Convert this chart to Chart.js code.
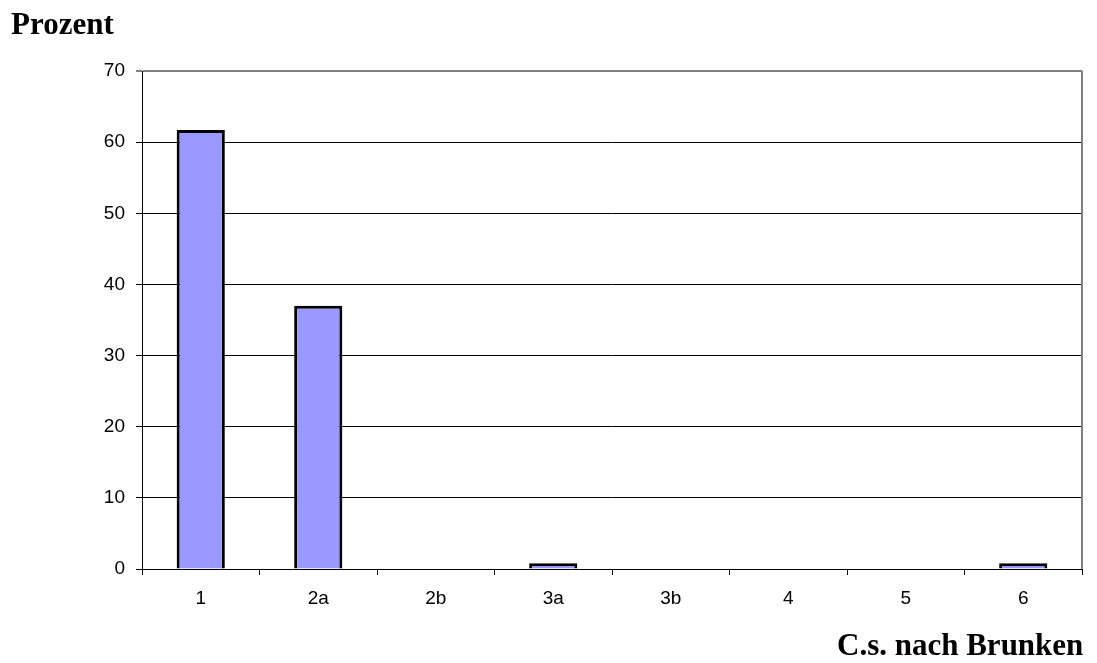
<!DOCTYPE html>
<html>
<head>
<meta charset="utf-8">
<script src="https://cdn.jsdelivr.net/npm/chart.js@4/dist/chart.umd.min.js"></script>
<style>
  html, body { margin: 0; padding: 0; background: #fff; }
  #wrap { position: relative; width: 1097px; height: 663px; }
  .lbl { position: absolute; font-family: "Liberation Serif", "Times New Roman", serif; font-weight: bold; color: #000; line-height: 1; }
</style>
</head>
<body>
<div id="wrap">
  <canvas id="c" width="1097" height="663"></canvas>
  <div class="lbl" style="left:11px; top:8px; font-size:31px;">Prozent</div>
  <div class="lbl" style="left:837px; top:629px; font-size:31px;">C.s. nach Brunken</div>
</div>
<script>
// Daten
const categories = ['1', '2a', '2b', '3a', '3b', '4', '5', '6'];
const percentValues = [61.7, 37.0, 0, 0.8, 0, 0, 0, 0.8];
const yTicks = [0, 10, 20, 30, 40, 50, 60, 70];

// Rahmen rechts in grau
const frame = {
    id: 'frame',
    afterDraw(chart) {
        const { ctx, chartArea } = chart;
        ctx.save();
        ctx.strokeStyle = '#808080';
        ctx.lineWidth = 2;
        ctx.beginPath();
        ctx.moveTo(chartArea.right, chartArea.top);
        ctx.lineTo(chartArea.right, chartArea.bottom);
        ctx.stroke();
        ctx.restore();
    }
};

const ctx = document.getElementById('c').getContext('2d');
new Chart(ctx, {
    type: 'bar',
    data: {
        labels: categories,
        datasets: [{
            data: percentValues,
            backgroundColor: '#9999ff',
            borderColor: '#000',
            borderWidth: 3,
            categoryPercentage: 1,
            barPercentage: 0.41
        }]
    },
    options: {
        responsive: false,
        animation: false,
        layout: { padding: { left: 0, top: 71, right: 15, bottom: 0 } },
        plugins: { legend: { display: false }, tooltip: { enabled: false } },
        scales: {
            x: {
                offset: true,
                grid: {
                    offset: true,
                    drawOnChartArea: false,
                    color: '#000',
                    tickLength: 6
                },
                border: { color: '#000', width: 1 },
                ticks: {
                    color: '#000',
                    padding: 12,
                    font: { family: 'Liberation Sans, Arial, sans-serif', size: 19 }
                },
                afterFit(scale) { scale.height = 94; }
            },
            y: {
                min: 0,
                max: 70,
                afterBuildTicks(scale) { scale.ticks = yTicks.map(v => ({ value: v })); },
                grid: {
                    color: (c) => c.tick && c.tick.value === 70 ? '#808080' : '#000',
                    lineWidth: (c) => c.tick && c.tick.value === 70 ? 2 : 1,
                    tickLength: 6
                },
                border: { color: '#000', width: 1 },
                ticks: {
                    color: '#000',
                    padding: 11,
                    font: { family: 'Liberation Sans, Arial, sans-serif', size: 19 }
                },
                afterFit(scale) { scale.width = 142; }
            }
        }
    },
    plugins: [frame]
});
</script>
</body>
</html>
